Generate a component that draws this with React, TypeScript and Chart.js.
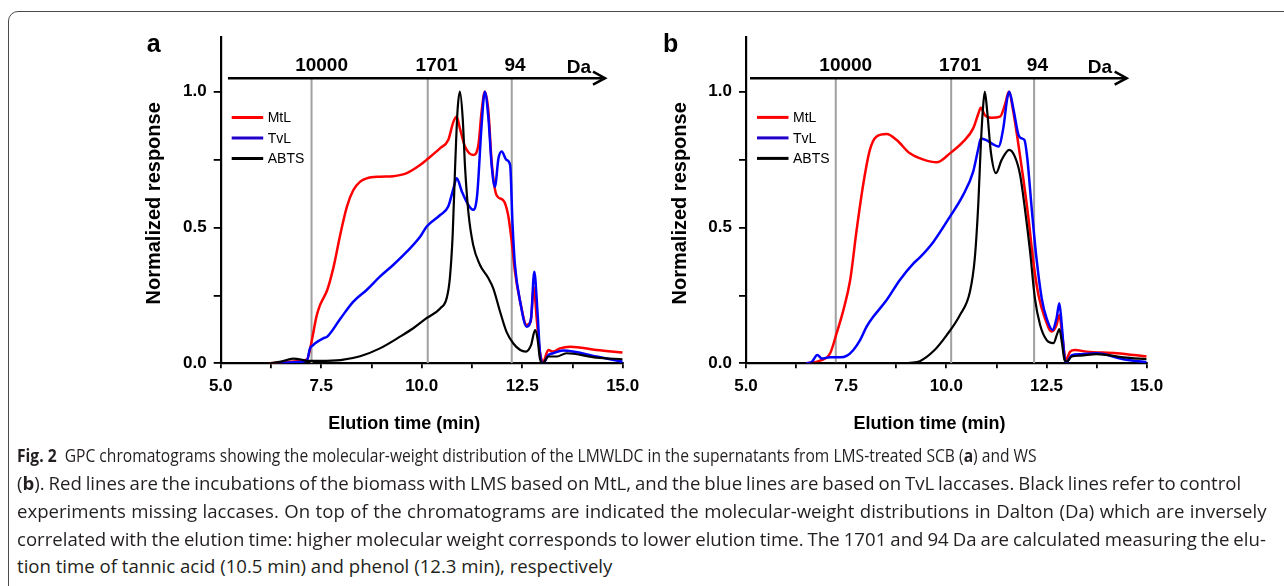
import React, { useEffect, useLayoutEffect, useRef } from 'react';
import { Chart, registerables } from 'chart.js';

Chart.register(...registerables);

// ---------- data ----------
const X_TICKS = [5, 6.25, 7.5, 8.75, 10, 11.25, 12.5, 13.75, 15];
const X_LABELED = [5, 7.5, 10, 12.5, 15];
const Y_TICKS = [0, 0.25, 0.5, 0.75, 1.0];
const Y_LABELED = [0, 0.5, 1.0];
const X_MIN = 5;
const X_MAX = 15;
const Y_MIN = 0;
const Y_MAX = 1.2;

const SERIES_NAMES = ['MtL', 'TvL', 'ABTS'];
const SERIES_COLORS = ['#ff0000', '#0000ff', '#000000'];

const DA_LABELS = ['10000', '1701', '94'];
const DA_UNIT = 'Da';
const TOP_AXIS_V = 1.05;

// marker times (min) for 10000, 1701 and 94 Da
const A_DA_T = [7.26, 10.15, 12.24];
const B_DA_T = [7.24, 10.12, 12.19];

// ---- panel a (SCB) ----
const A_MTL_T = [6.2, 6.6, 6.9, 7.15, 7.22, 7.3, 7.38, 7.47, 7.65, 7.81, 7.98, 8.14, 8.3, 8.47, 8.63, 8.96, 9.29, 9.63, 9.96, 10.12, 10.46, 10.66, 10.79, 10.87, 10.95, 11.08, 11.28, 11.41, 11.49, 11.57, 11.66, 11.74, 11.86, 12.03, 12.15, 12.24, 12.32, 12.45, 12.61, 12.71, 12.79, 12.86, 12.94, 13.02, 13.15, 13.27, 13.44, 13.69, 14.35, 15.0];
const A_MTL_V = [0, 0.004, 0.008, 0.015, 0.05, 0.11, 0.171, 0.214, 0.27, 0.356, 0.478, 0.577, 0.638, 0.669, 0.681, 0.687, 0.689, 0.7, 0.73, 0.749, 0.792, 0.822, 0.89, 0.908, 0.865, 0.797, 0.767, 0.804, 0.927, 1.0, 0.927, 0.742, 0.62, 0.6, 0.546, 0.448, 0.337, 0.227, 0.141, 0.153, 0.28, 0.165, 0.043, 0.006, 0.049, 0.043, 0.055, 0.061, 0.049, 0.04];

const A_TVL_T = [6.4, 6.7, 7.0, 7.15, 7.22, 7.3, 7.35, 7.55, 7.65, 7.98, 8.3, 8.63, 8.96, 9.29, 9.63, 9.96, 10.12, 10.46, 10.66, 10.79, 10.87, 11.0, 11.16, 11.28, 11.38, 11.49, 11.57, 11.66, 11.74, 11.82, 11.91, 11.99, 12.11, 12.2, 12.26, 12.32, 12.45, 12.61, 12.72, 12.8, 12.88, 12.94, 13.02, 13.15, 13.27, 13.52, 14.35, 15.0];
const A_TVL_V = [0, 0.003, 0.006, 0.012, 0.055, 0.067, 0.074, 0.092, 0.098, 0.165, 0.227, 0.27, 0.319, 0.362, 0.411, 0.466, 0.503, 0.546, 0.577, 0.644, 0.681, 0.632, 0.583, 0.565, 0.62, 0.877, 1.0, 0.902, 0.73, 0.65, 0.755, 0.78, 0.749, 0.73, 0.51, 0.362, 0.227, 0.135, 0.166, 0.337, 0.19, 0.043, 0.0, 0.03, 0.037, 0.047, 0.025, 0.006];

const A_ABTS_T = [6.2, 6.5, 6.8, 7.0, 7.14, 7.47, 7.98, 8.47, 8.96, 9.46, 9.79, 10.12, 10.46, 10.62, 10.7, 10.77, 10.83, 10.89, 10.95, 11.02, 11.08, 11.16, 11.28, 11.45, 11.66, 11.78, 11.95, 12.11, 12.28, 12.45, 12.59, 12.72, 12.82, 12.88, 12.94, 13.01, 13.15, 13.36, 13.6, 14.35, 15.0];
const A_ABTS_V = [0, 0.006, 0.017, 0.014, 0.009, 0.009, 0.012, 0.026, 0.055, 0.098, 0.129, 0.166, 0.202, 0.239, 0.313, 0.472, 0.718, 0.927, 1.0, 0.902, 0.718, 0.558, 0.436, 0.362, 0.313, 0.276, 0.19, 0.116, 0.073, 0.049, 0.043, 0.067, 0.122, 0.092, 0.018, 0.0, 0.025, 0.025, 0.037, 0.021, 0.015];

// ---- panel b (WS) ----
const B_MTL_T = [6.51, 6.85, 7.1, 7.26, 7.43, 7.6, 7.76, 7.93, 8.09, 8.26, 8.51, 8.76, 9.09, 9.43, 9.76, 10.09, 10.42, 10.67, 10.8, 10.86, 10.96, 11.13, 11.34, 11.46, 11.56, 11.67, 11.8, 11.92, 12.05, 12.17, 12.3, 12.46, 12.63, 12.75, 12.82, 12.9, 12.98, 13.09, 13.21, 13.5, 14.25, 15.0];
const B_MTL_V = [0, 0.01, 0.037, 0.11, 0.196, 0.307, 0.49, 0.663, 0.785, 0.835, 0.844, 0.822, 0.773, 0.75, 0.74, 0.773, 0.816, 0.865, 0.92, 0.941, 0.914, 0.904, 0.908, 0.951, 1.0, 0.927, 0.804, 0.681, 0.534, 0.374, 0.251, 0.166, 0.117, 0.141, 0.178, 0.092, 0.012, 0.043, 0.049, 0.043, 0.037, 0.025];

const B_TVL_T = [6.51, 6.64, 6.78, 6.89, 7.1, 7.35, 7.51, 7.68, 7.85, 8.01, 8.18, 8.51, 8.84, 9.18, 9.34, 9.68, 10.09, 10.42, 10.67, 10.8, 10.86, 11.0, 11.17, 11.3, 11.42, 11.52, 11.57, 11.67, 11.8, 11.88, 11.95, 12.02, 12.13, 12.25, 12.38, 12.5, 12.65, 12.75, 12.82, 12.88, 12.96, 13.0, 13.13, 13.34, 13.75, 14.42, 15.0];
const B_TVL_V = [0, 0.005, 0.031, 0.018, 0.022, 0.022, 0.027, 0.049, 0.086, 0.135, 0.172, 0.233, 0.307, 0.368, 0.39, 0.448, 0.54, 0.62, 0.706, 0.792, 0.828, 0.822, 0.806, 0.798, 0.865, 0.976, 1.0, 0.939, 0.841, 0.828, 0.822, 0.755, 0.57, 0.386, 0.239, 0.166, 0.123, 0.166, 0.221, 0.141, 0.012, 0.004, 0.03, 0.033, 0.037, 0.015, 0.004];

const B_ABTS_T = [6.6, 8.9, 9.1, 9.34, 9.68, 10.01, 10.34, 10.59, 10.71, 10.8, 10.86, 10.92, 10.96, 11.02, 11.11, 11.24, 11.38, 11.57, 11.71, 11.84, 11.96, 12.09, 12.21, 12.34, 12.5, 12.67, 12.77, 12.82, 12.88, 12.94, 13.0, 13.13, 13.34, 13.75, 14.42, 15.0];
const B_ABTS_V = [0, 0, 0.002, 0.008, 0.045, 0.104, 0.178, 0.264, 0.387, 0.595, 0.804, 0.951, 1.0, 0.927, 0.779, 0.7, 0.749, 0.786, 0.761, 0.694, 0.57, 0.411, 0.239, 0.141, 0.086, 0.074, 0.11, 0.126, 0.08, 0.018, 0.006, 0.025, 0.028, 0.034, 0.022, 0.015];

const Y_TITLE = 'Normalized response';
const X_TITLE = 'Elution time (min)';

// ---------- helpers ----------
const FONT = '"Liberation Sans", Arial, Helvetica, sans-serif';

function pts(ts: number[], vs: number[]) {
  return ts.map((t, i) => ({ x: t, y: vs[i] }));
}

type PanelCfg = {
  letter: string;
  letterX: number;
  daT: number[];
  shaftT: [number, number];
  daUnitT: number;
  yWidth: number;
  rightPad: number;
  series: { t: number[]; v: number[] }[];
};

function decorPlugin(cfg: PanelCfg) {
  return {
    id: 'gpcDecor',
    afterDraw(chart: any) {
      const { ctx, chartArea } = chart;
      const x = chart.scales.x;
      const y = chart.scales.y;
      const { left, top, bottom } = chartArea;
      ctx.save();
      // top Dalton axis
      const yTop = y.getPixelForValue(TOP_AXIS_V);
      const xs = x.getPixelForValue(cfg.shaftT[0]);
      const xe = x.getPixelForValue(cfg.shaftT[1]);
      ctx.strokeStyle = '#000';
      ctx.lineWidth = 2.5;
      ctx.lineCap = 'butt';
      ctx.beginPath();
      ctx.moveTo(xs, yTop);
      ctx.lineTo(xe, yTop);
      ctx.stroke();
      ctx.lineJoin = 'miter';
      ctx.beginPath();
      ctx.moveTo(xe - 12, yTop - 6.5);
      ctx.lineTo(xe, yTop);
      ctx.lineTo(xe - 12, yTop + 6.5);
      ctx.stroke();
      ctx.fillStyle = '#000';
      ctx.font = `bold 19px ${FONT}`;
      ctx.textAlign = 'center';
      ctx.textBaseline = 'alphabetic';
      const dxs = [10, 9, 3.3];
      DA_LABELS.forEach((lab, i) => {
        ctx.fillText(lab, x.getPixelForValue(cfg.daT[i]) + dxs[i], yTop - 7.6);
      });
      ctx.fillText(DA_UNIT, x.getPixelForValue(cfg.daUnitT), yTop - 5.6);

      // legend
      ctx.font = `14px ${FONT}`;
      ctx.textAlign = 'left';
      ctx.textBaseline = 'middle';
      SERIES_NAMES.forEach((name, i) => {
        const ly = top + 80 + i * 20.5;
        ctx.strokeStyle = i === 1 ? '#2200cc' : SERIES_COLORS[i];
        ctx.lineWidth = 3;
        ctx.beginPath();
        ctx.moveTo(left + 11, ly);
        ctx.lineTo(left + 42.5, ly);
        ctx.stroke();
        ctx.fillStyle = '#000';
        ctx.fillText(name, left + 47, ly + 1);
      });

      // axis titles
      ctx.font = `bold 20px ${FONT}`;
      ctx.textAlign = 'center';
      ctx.textBaseline = 'middle';
      ctx.save();
      ctx.translate(left - 66, (top + bottom) / 2 + 3);
      ctx.rotate(-Math.PI / 2);
      ctx.fillText(Y_TITLE, 0, 0);
      ctx.restore();
      ctx.font = `bold 18px ${FONT}`;
      ctx.fillText(X_TITLE, left + 183.5, bottom + 60.7);

      // panel letter
      ctx.font = `bold 25px ${FONT}`;
      ctx.textAlign = 'left';
      ctx.textBaseline = 'alphabetic';
      ctx.fillText(cfg.letter, cfg.letterX, 32);
      ctx.restore();
    },
  };
}

function Panel({ cfg, left }: { cfg: PanelCfg; left: number }) {
  const ref = useRef<HTMLCanvasElement | null>(null);
  useEffect(() => {
    if (!ref.current) return;
    const datasets: any[] = [];
    // curves: ABTS on top, then TvL, then MtL
    [2, 1, 0].forEach((i) => {
      datasets.push({
        label: SERIES_NAMES[i],
        data: pts(cfg.series[i].t, cfg.series[i].v),
        borderColor: SERIES_COLORS[i],
        borderWidth: i === 2 ? 2.2 : 2.5,
        pointRadius: 0,
        fill: false,
        cubicInterpolationMode: 'monotone',
      });
    });
    cfg.daT.forEach((t, i) => {
      datasets.push({
        label: DA_LABELS[i] + ' Da',
        data: [
          { x: t, y: 0 },
          { x: t, y: TOP_AXIS_V },
        ],
        borderColor: '#a0a0a0',
        borderWidth: 2,
        pointRadius: 0,
        fill: false,
      });
    });
    const chart = new Chart(ref.current, {
      type: 'line',
      data: { datasets },
      options: {
        animation: false,
        responsive: false,
        devicePixelRatio: 1,
        events: [],
        layout: { padding: { left: 0, top: 17.4, right: cfg.rightPad, bottom: 0 } },
        plugins: { legend: { display: false }, tooltip: { enabled: false }, title: { display: false } },
        scales: {
          x: {
            type: 'linear',
            min: X_MIN,
            max: X_MAX,
            afterBuildTicks: (s: any) => {
              s.ticks = X_TICKS.map((v) => ({ value: v }));
            },
            afterFit: (s: any) => {
              s.height = 86.7;
            },
            ticks: {
              autoSkip: false,
              maxRotation: 0,
              padding: 8,
              color: '#000',
              font: { family: FONT, size: 17, weight: 'bold' },
              callback: (v: any) => (X_LABELED.includes(Number(v)) ? Number(v).toFixed(1) : ''),
            },
            grid: { display: true, drawOnChartArea: false, drawTicks: true, tickLength: 5, color: '#000', lineWidth: 1.8 },
            border: { display: true, color: '#000', width: 2.2 },
          },
          y: {
            type: 'linear',
            min: Y_MIN,
            max: Y_MAX,
            afterBuildTicks: (s: any) => {
              s.ticks = Y_TICKS.map((v) => ({ value: v }));
            },
            afterFit: (s: any) => {
              s.width = cfg.yWidth;
            },
            ticks: {
              autoSkip: false,
              padding: 7,
              color: '#000',
              font: { family: FONT, size: 17, weight: 'bold' },
              callback: (v: any) => (Y_LABELED.includes(Number(v)) ? Number(v).toFixed(1) : ''),
            },
            grid: { display: true, drawOnChartArea: false, drawTicks: true, tickLength: 7, color: '#000', lineWidth: 1.8 },
            border: { display: true, color: '#000', width: 2.2 },
          },
        },
      } as any,
      plugins: [decorPlugin(cfg)],
    });
    return () => chart.destroy();
  }, [cfg]);
  return (
    <canvas
      ref={ref}
      width={530}
      height={430}
      style={{ position: 'absolute', left, top: 20, width: 530, height: 430 }}
    />
  );
}

const PANEL_A: PanelCfg = {
  letter: 'a',
  letterX: 16.7,
  daT: A_DA_T,
  shaftT: [5.18, 14.56],
  daUnitT: 13.91,
  yWidth: 90.7,
  rightPad: 530 - 492.7,
  series: [
    { t: A_MTL_T, v: A_MTL_V },
    { t: A_TVL_T, v: A_TVL_V },
    { t: A_ABTS_T, v: A_ABTS_V },
  ],
};

const PANEL_B: PanelCfg = {
  letter: 'b',
  letterX: 13,
  daT: B_DA_T,
  shaftT: [5.1, 14.5],
  daUnitT: 13.83,
  yWidth: 96,
  rightPad: 530 - 496.7,
  series: [
    { t: B_MTL_T, v: B_MTL_V },
    { t: B_TVL_T, v: B_TVL_V },
    { t: B_ABTS_T, v: B_ABTS_V },
  ],
};

// caption layout: right end of each line. Line 5 (ragged) sets the common
// condensing factor; line 1 is fitted on its own; lines 2-4 are justified.
const CAPTION_RIGHT = [1037, 1241, 1267, 1266, 612];
const CAPTION_LEFT = 17;
const CAPTION_MODE = ['fit', 'justify', 'justify', 'justify', 'base'];

function Caption() {
  const refs = useRef<(HTMLDivElement | null)[]>([]);
  useLayoutEffect(() => {
    const fit = () => {
      const els = refs.current;
      els.forEach((el) => {
        if (!el) return;
        el.style.transform = 'none';
        el.style.wordSpacing = '0px';
      });
      const base = els[4];
      if (!base || !base.offsetWidth) return;
      const s = (CAPTION_RIGHT[4] - CAPTION_LEFT) / base.offsetWidth;
      els.forEach((el, i) => {
        if (!el) return;
        const target = CAPTION_RIGHT[i] - CAPTION_LEFT;
        if (CAPTION_MODE[i] === 'fit') {
          el.style.transform = `scaleX(${target / el.offsetWidth})`;
          return;
        }
        if (CAPTION_MODE[i] === 'justify') {
          const want = target / s;
          const have = el.offsetWidth;
          const nSpaces = (el.textContent || '').split(' ').length - 1;
          if (nSpaces > 0) el.style.wordSpacing = `${(want - have) / nSpaces}px`;
        }
        el.style.transform = `scaleX(${s})`;
      });
    };
    fit();
    if ((document as any).fonts && (document as any).fonts.ready) {
      (document as any).fonts.ready.then(fit);
    }
  }, []);
  const tops = [443, 471, 499, 527, 554];
  const lines: React.ReactNode[] = [
    <>
      <b>Fig. 2</b>{'  '}GPC chromatograms showing the molecular-weight distribution of the LMWLDC in the supernatants from LMS-treated SCB (<b>a</b>) and WS
    </>,
    <>
      (<b>b</b>). Red lines are the incubations of the biomass with LMS based on MtL, and the blue lines are based on TvL laccases. Black lines refer to control
    </>,
    <>experiments missing laccases. On top of the chromatograms are indicated the molecular-weight distributions in Dalton (Da) which are inversely</>,
    <>correlated with the elution time: higher molecular weight corresponds to lower elution time. The 1701 and 94 Da are calculated measuring the elu-</>,
    <>tion time of tannic acid (10.5 min) and phenol (12.3 min), respectively</>,
  ];
  return (
    <>
      {lines.map((ln, i) => (
        <div
          key={i}
          ref={(el) => {
            refs.current[i] = el;
          }}
          style={{
            position: 'absolute',
            left: CAPTION_LEFT,
            top: tops[i],
            whiteSpace: 'pre',
            fontFamily: '"Open Sans", "Noto Sans", sans-serif',
            fontSize: 18,
            lineHeight: '24px',
            color: '#231f20',
            transformOrigin: '0 0',
          }}
        >
          {ln}
        </div>
      ))}
    </>
  );
}

export default function App() {
  useEffect(() => {
    document.body.style.margin = '0';
    document.body.style.overflow = 'hidden';
  }, []);
  return (
    <div style={{ position: 'relative', width: 1284, height: 586, overflow: 'hidden', background: '#fff' }}>
      <div
        style={{
          position: 'absolute',
          left: 8,
          top: 11,
          width: 1320,
          height: 640,
          border: '1.5px solid #4a4a4a',
          borderRadius: 10,
          boxSizing: 'border-box',
        }}
      />
      <Panel cfg={PANEL_A} left={130} />
      <Panel cfg={PANEL_B} left={650} />
      <Caption />
    </div>
  );
}
